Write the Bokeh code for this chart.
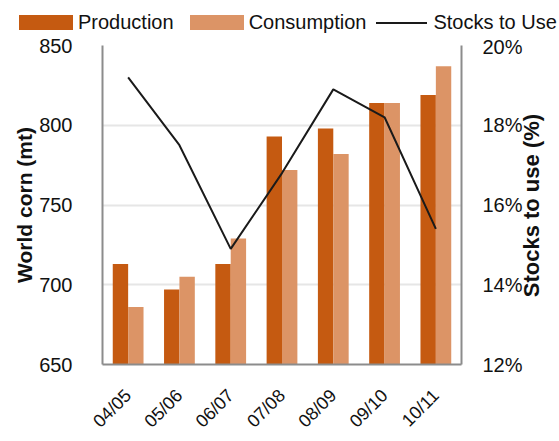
import math
from bokeh.plotting import figure
from bokeh.layouts import column
from bokeh.models import (ColumnDataSource, FactorRange, Range1d, LinearAxis,
                          PrintfTickFormatter, FixedTicker, Div)
from bokeh.transform import dodge
from bokeh.embed import file_html
from bokeh.resources import INLINE

seasons = ["04/05", "05/06", "06/07", "07/08", "08/09", "09/10", "10/11"]
production = [713, 697, 713, 793, 798, 814, 819]
consumption = [686, 705, 729, 772, 782, 814, 837]
stocks_to_use = [19.2, 17.5, 14.9, 16.8, 18.9, 18.2, 15.4]

FONT = "Liberation Sans"
PROD_COLOR = "#C55A11"
CONS_COLOR = "#DC9466"
LINE_COLOR = "#1a1a1a"
AXIS_GREY = "#8C8C8C"
TEXT = "#111111"

src = ColumnDataSource(dict(season=seasons, production=production,
                            consumption=consumption, stu=stocks_to_use))

p = figure(width=559, height=406, x_range=FactorRange(*seasons),
           y_range=Range1d(650, 850), output_backend="svg",
           toolbar_location=None, min_border_left=102, min_border_right=95,
           min_border_top=10, min_border_bottom=71)
p.extra_y_ranges = {"pct": Range1d(12, 20)}

p.vbar(x=dodge("season", -0.15, range=p.x_range), top="production",
       bottom=650, width=0.3, source=src, fill_color=PROD_COLOR,
       line_color=None)
p.vbar(x=dodge("season", 0.15, range=p.x_range), top="consumption",
       bottom=650, width=0.3, source=src, fill_color=CONS_COLOR,
       line_color=None)
p.line(x="season", y="stu", source=src, y_range_name="pct",
       line_color=LINE_COLOR, line_width=2)

p.outline_line_color = None
p.xgrid.grid_line_color = None
p.ygrid.grid_line_color = "#E6E6E6"
p.ygrid.grid_line_width = 2
p.ygrid.ticker = FixedTicker(ticks=[700, 750, 800, 850])

# left axis: world corn volume
ly = p.yaxis[0]
ly.ticker = FixedTicker(ticks=[650, 700, 750, 800, 850])
ly.axis_label = "World corn (mt)"

# right axis: stocks-to-use ratio, title reading bottom to top
ry = LinearAxis(y_range_name="pct",
                axis_label="\u00a0" * 11 + "Stocks to use (%)",
                ticker=FixedTicker(ticks=[12, 14, 16, 18, 20]),
                formatter=PrintfTickFormatter(format="%d%%"))
ry.axis_label_orientation = math.pi / 2
ry.axis_label_align = "start"
p.add_layout(ry, "right")

for ax in (ly, ry):
    ax.axis_line_color = AXIS_GREY
    ax.axis_line_width = 2
    ax.major_tick_line_color = None
    ax.minor_tick_line_color = None
    ax.major_label_text_font = FONT
    ax.major_label_text_font_size = "20px"
    ax.major_label_text_color = TEXT
    ax.axis_label_text_font = FONT
    ax.axis_label_text_font_style = "bold"
    ax.axis_label_text_color = TEXT
ly.axis_label_text_font_size = "21px"
ry.axis_label_text_font_size = "22px"
ly.axis_label_standoff = 0
ry.axis_label_standoff = 6
ly.major_label_standoff = 24
ry.major_label_standoff = 15

xa = p.xaxis[0]
xa.axis_line_color = AXIS_GREY
xa.axis_line_width = 2
xa.major_tick_line_color = None
xa.minor_tick_line_color = None
xa.major_label_orientation = math.pi / 4
xa.major_label_text_font = FONT
xa.major_label_text_font_size = "18px"
xa.major_label_text_color = TEXT
xa.major_label_standoff = 22

# key row above the chart: (label, colour, swatch kind, gap after)
key_entries = [("Production", PROD_COLOR, "bar", 16),
               ("Consumption", CONS_COLOR, "bar", 10),
               ("Stocks to Use", LINE_COLOR, "line", 0)]
parts = []
for name, color, kind, gap in key_entries:
    if kind == "bar":
        swatch = (f'<span style="display:inline-block;width:54px;height:15px;'
                  f'background:{color};margin-right:5px;flex:none"></span>')
    else:
        swatch = (f'<span style="display:inline-block;width:51px;height:0;'
                  f'border-top:2px solid {color};margin-right:6px;flex:none">'
                  '</span>')
    parts.append(f'{swatch}<span style="margin-right:{gap}px;flex:none">'
                 f'{name}</span>')
key_html = ('<div style="display:flex;align-items:center;box-sizing:border-box;'
            'height:34px;padding:11px 0 0 19px;'
            'font-family:\'Liberation Sans\',sans-serif;font-size:20px;'
            f'line-height:23px;color:{TEXT};white-space:nowrap">'
            + "".join(parts) + '</div>')
key = Div(text=key_html, width=559, height=35, margin=0)

layout = column(key, p, spacing=0)
open("out.html", "w").write(file_html(layout, INLINE))
